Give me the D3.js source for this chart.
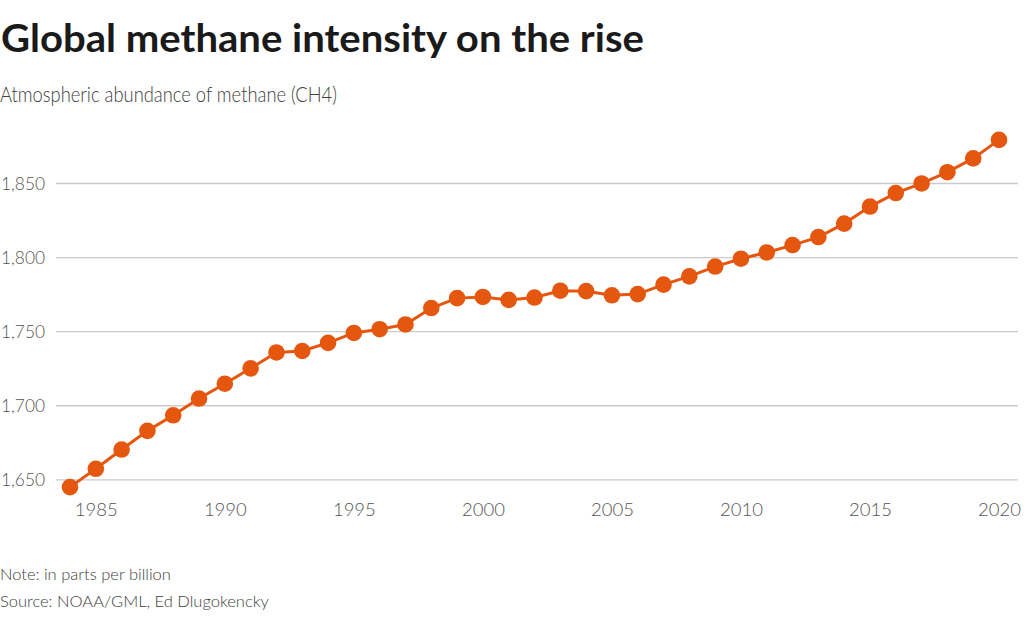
<!DOCTYPE html>
<html>
<head>
<meta charset="utf-8">
<script src="https://cdn.jsdelivr.net/npm/d3@7"></script>
<style>
  html, body { margin: 0; padding: 0; background: #fff; }
  svg { display: block; }
</style>
</head>
<body>
<svg id="chart" width="1024" height="621"></svg>
<script>
const years = [1984,1985,1986,1987,1988,1989,1990,1991,1992,1993,1994,1995,1996,1997,1998,1999,2000,2001,2002,2003,2004,2005,2006,2007,2008,2009,2010,2011,2012,2013,2014,2015,2016,2017,2018,2019,2020];
const methane = [1644.7,1657.1,1670.1,1682.7,1693.2,1704.5,1714.5,1724.9,1735.6,1736.6,1742.1,1748.8,1751.3,1754.5,1765.6,1772.3,1773.1,1771.1,1772.7,1777.3,1777.0,1774.2,1775.0,1781.4,1787.0,1793.6,1798.9,1803.1,1808.1,1813.5,1822.6,1834.1,1843.2,1849.7,1857.3,1866.6,1879.1];
const yTicks = [1650,1700,1750,1800,1850];
const xTicks = [1985,1990,1995,2000,2005,2010,2015,2020];
const title = "Global methane intensity on the rise";
const subtitle = "Atmospheric abundance of methane (CH4)";
const note = "Note: in parts per billion";
const source = "Source: NOAA/GML, Ed Dlugokencky";

const svg = d3.select("#chart");
const font = "Lato, 'Noto Sans', sans-serif";
const orange = "#E5570F";

const x = d3.scaleLinear().domain([1984, 2020]).range([70, 999]);
const y = d3.scaleLinear().domain([1650, 1850]).range([479.3, 183]);

// Title & subtitle
svg.append("text").attr("x", 1).attr("y", 52)
  .attr("font-family", font).attr("font-weight", 700).attr("font-size", 39)
  .attr("fill", "#1a1a1a")
  .attr("textLength", 643).attr("lengthAdjust", "spacingAndGlyphs")
  .text(title);
svg.append("text").attr("x", 0).attr("y", 102)
  .attr("font-family", font).attr("font-weight", 300).attr("font-size", 21.5)
  .attr("fill", "#404040")
  .attr("textLength", 337).attr("lengthAdjust", "spacingAndGlyphs")
  .text(subtitle);

// Y gridlines and labels
const yAxis = d3.axisLeft(y).tickValues(yTicks).tickSize(0).tickPadding(0)
  .tickFormat(d3.format(","));
const gy = svg.append("g").attr("transform", "translate(45,0)").call(yAxis);
gy.select(".domain").remove();
gy.selectAll("text").attr("font-family", font).attr("font-weight", 300)
  .attr("font-size", 18.5).attr("fill", "#555").attr("dy", "0.35em")
  .attr("textLength", 44).attr("lengthAdjust", "spacingAndGlyphs");

const grid = d3.axisLeft(y).tickValues(yTicks).tickSize(-(1018 - 56)).tickFormat("");
const gg = svg.append("g").attr("transform", "translate(56,0)").call(grid);
gg.select(".domain").remove();
gg.selectAll("line").attr("stroke", "#cccccc").attr("stroke-width", 1.3);

// X axis labels
const xAxis = d3.axisBottom(x).tickValues(xTicks).tickSize(0).tickPadding(0)
  .tickFormat(d3.format("d"));
const gx = svg.append("g").attr("transform", "translate(0,503)").call(xAxis);
gx.select(".domain").remove();
gx.selectAll("text").attr("font-family", font).attr("font-weight", 300)
  .attr("font-size", 18.5).attr("fill", "#555").attr("dy", "0.71em");

// Line
const data = years.map((yr, i) => ({ year: yr, value: methane[i] }));
const line = d3.line().x(d => x(d.year)).y(d => y(d.value));
svg.append("path").datum(data).attr("d", line)
  .attr("fill", "none").attr("stroke", orange).attr("stroke-width", 3);

svg.append("g").selectAll("circle").data(data).join("circle")
  .attr("cx", d => x(d.year)).attr("cy", d => y(d.value)).attr("r", 8.3)
  .attr("fill", orange);

// Footer
svg.append("text").attr("x", 0).attr("y", 580)
  .attr("font-family", font).attr("font-weight", 300).attr("font-size", 16.5)
  .attr("fill", "#404040").text(note);
svg.append("text").attr("x", 0).attr("y", 607)
  .attr("font-family", font).attr("font-weight", 300).attr("font-size", 16.5)
  .attr("fill", "#404040").text(source);
</script>
</body>
</html>
